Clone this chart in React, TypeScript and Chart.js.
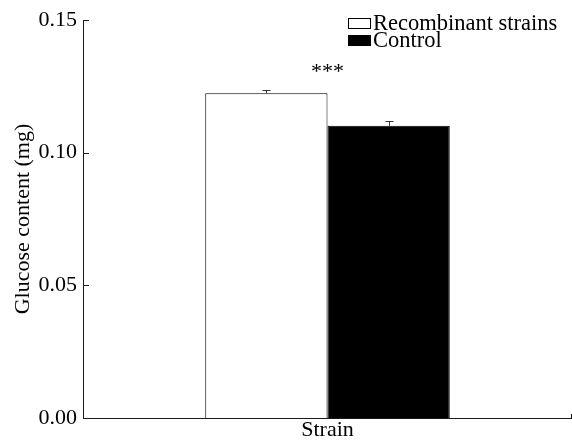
import React, { useEffect, useRef } from "react";
import { Chart, registerables } from "chart.js";

Chart.register(...registerables);

const categories = ["Strain"];
const seriesLabels = ["Recombinant strains", "Control"];
const seriesValues = [[0.1224], [0.1101]];
const seriesErrors = [[0.0011], [0.0017]];
const seriesFill = ["#ffffff", "#000000"];
const significance = "***";
const yTicks = [0, 0.05, 0.1, 0.15];
const yTitle = "Glucose content (mg)";
const xTitle = "Strain";

const FONT = "'Liberation Serif', 'Times New Roman', serif";
const INK = "#1a1a1a";

const extrasPlugin = {
  id: "extras",
  afterDatasetsDraw(chart: any) {
    const ctx = chart.ctx;
    const y = chart.scales.y;
    const area = chart.chartArea;
    ctx.save();
    ctx.strokeStyle = INK;
    ctx.lineWidth = 1;
    // inward y ticks
    yTicks.forEach((v) => {
      const py = Math.round(y.getPixelForValue(v)) + 0.5;
      ctx.beginPath();
      ctx.moveTo(area.left, py);
      ctx.lineTo(area.left + 6, py);
      ctx.stroke();
    });
    // small tick at right end of x axis
    ctx.beginPath();
    ctx.moveTo(area.right - 0.5, area.bottom);
    ctx.lineTo(area.right - 0.5, area.bottom - 4);
    ctx.stroke();
    // error bars
    let minTop = Infinity;
    chart.data.datasets.forEach((ds: any, i: number) => {
      const meta = chart.getDatasetMeta(i);
      meta.data.forEach((bar: any, j: number) => {
        const v = ds.data[j];
        const e = seriesErrors[i][j];
        const top = y.getPixelForValue(v + e);
        const x = Math.round(bar.x) + 0.5;
        minTop = Math.min(minTop, top);
        ctx.strokeStyle = "#333";
        ctx.beginPath();
        ctx.moveTo(x, bar.y);
        ctx.lineTo(x, top);
        ctx.moveTo(x - 4, Math.round(top) + 0.5);
        ctx.lineTo(x + 4, Math.round(top) + 0.5);
        ctx.stroke();
      });
    });
    // significance stars
    const x0 = chart.scales.x.getPixelForValue(0);
    ctx.fillStyle = "#000";
    ctx.font = `22px ${FONT}`;
    ctx.textAlign = "center";
    ctx.textBaseline = "alphabetic";
    ctx.fillText(significance, x0, minTop - 12);
    // legend
    const lx = 348;
    const ly = 18;
    const rowH = 17;
    ctx.font = `22.5px ${FONT}`;
    ctx.textAlign = "left";
    ctx.textBaseline = "middle";
    seriesLabels.forEach((lab, i) => {
      const by = ly + i * rowH;
      ctx.fillStyle = seriesFill[i];
      ctx.fillRect(lx, by, 22, 10);
      ctx.strokeStyle = "#000";
      ctx.strokeRect(lx + 0.5, by + 0.5, 22, 10);
      ctx.fillStyle = "#000";
      ctx.fillText(lab, lx + 25, by + 6);
    });
    ctx.restore();
  },
};

export default function App() {
  const ref = useRef<HTMLCanvasElement>(null);
  useEffect(() => {
    document.body.style.margin = "0";
    const chart = new Chart(ref.current as HTMLCanvasElement, {
      type: "bar",
      data: {
        labels: categories,
        datasets: seriesLabels.map((lab, i) => ({
          label: lab,
          data: seriesValues[i],
          backgroundColor: seriesFill[i],
          borderColor: "#000",
          borderWidth: 1,
          borderSkipped: "bottom",
          categoryPercentage: 0.5,
          barPercentage: 1,
        })),
      },
      options: {
        animation: false,
        responsive: false,
        maintainAspectRatio: false,
        layout: { padding: { left: 0, right: 0, top: 20, bottom: 0 } },
        plugins: { legend: { display: false }, tooltip: { enabled: false } },
        scales: {
          x: {
            grid: { display: false, drawTicks: false, tickLength: 0 },
            border: { display: true, color: INK, width: 1 },
            ticks: { display: false, padding: 0 },
            title: {
              display: true,
              text: xTitle,
              color: "#000",
              font: { family: FONT, size: 22, lineHeight: 1 },
              padding: { top: 1, bottom: 0 },
            },
          },
          y: {
            min: 0,
            max: 0.15,
            afterBuildTicks: (s: any) => {
              s.ticks = yTicks.map((v) => ({ value: v }));
            },
            afterFit: (s: any) => {
              s.width = 83;
            },
            grid: { display: false, drawTicks: false, tickLength: 0 },
            border: { display: true, color: INK, width: 1 },
            ticks: {
              color: "#000",
              font: { family: FONT, size: 22 },
              padding: 6,
              callback: (v: any) => Number(v).toFixed(2),
            },
            title: {
              display: true,
              text: yTitle,
              color: "#000",
              font: { family: FONT, size: 22, lineHeight: 1 },
              padding: { top: 12, bottom: 0 },
            },
          },
        },
      },
      plugins: [extrasPlugin],
    });
    return () => chart.destroy();
  }, []);
  return (
    <div style={{ width: 572, height: 441 }}>
      <canvas ref={ref} width={572} height={441} style={{ display: "block" }} />
    </div>
  );
}
